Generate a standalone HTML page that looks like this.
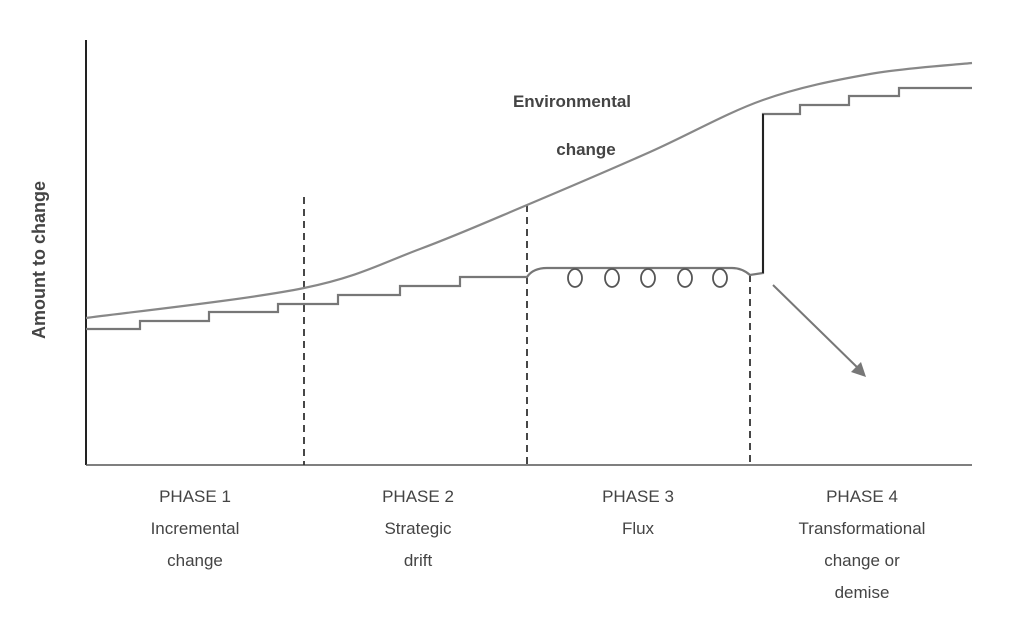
<!DOCTYPE html>
<html><head><meta charset="utf-8"><style>
html,body{margin:0;padding:0;background:#fff;}
svg{display:block;font-family:"Liberation Sans",sans-serif;}
</style></head><body>
<svg id="chart" width="1024" height="630" viewBox="0 0 1024 630">
<g id="marks"></g>
<text x="45" y="260" transform="rotate(-90 45 260)" text-anchor="middle" font-size="18" font-weight="bold" fill="#444">Amount to change</text>
<text x="572" y="107" text-anchor="middle" font-size="17" font-weight="bold" fill="#444">Environmental</text>
<text x="586" y="155" text-anchor="middle" font-size="17" font-weight="bold" fill="#444">change</text>
<g font-size="17" fill="#444" text-anchor="middle">
<text><tspan x="195" y="502">PHASE 1</tspan><tspan x="195" y="534">Incremental</tspan><tspan x="195" y="566">change</tspan></text>
<text><tspan x="418" y="502">PHASE 2</tspan><tspan x="418" y="534">Strategic</tspan><tspan x="418" y="566">drift</tspan></text>
<text><tspan x="638" y="502">PHASE 3</tspan><tspan x="638" y="534">Flux</tspan></text>
<text><tspan x="862" y="502">PHASE 4</tspan><tspan x="862" y="534">Transformational</tspan><tspan x="862" y="566">change or</tspan><tspan x="862" y="598">demise</tspan></text>
</g>
</svg>
<script>
// time (0..886) vs amount (0..425)
const envTimes=[0,218,334,441,564,677,784,886];
const envAmounts=[147,177,216,260,313,365,391,402];
const stepTimes1=[0,54,123,192,252,314,374,441];
const stepAmounts1=[136,144,153,161,170,179,188];
const fluxStart=441, fluxEnd=664, fluxAmount=197, dipAmount=190;
const loopTimes=[489,526,562,599,634];
const stepTimes2=[677,714,763,813,886];
const stepAmounts2=[351,360,369,377];
const phaseBoundaries=[218,441,664];
const boundaryTops=[268,260,190];

const X0=86,Y0=465;
const xs=t=>X0+t;
const ys=a=>Y0-a;
const NS="http://www.w3.org/2000/svg";
const g=document.getElementById('marks');
function mk(tag,attrs){const e=document.createElementNS(NS,tag);for(const k in attrs)e.setAttribute(k,attrs[k]);g.appendChild(e);return e;}

let ya=mk('line',{x1:X0,y1:40,x2:X0,y2:Y0,stroke:'#222','stroke-width':2});


let xa=mk('line',{x1:X0,y1:Y0,x2:972,y2:Y0,stroke:'#555','stroke-width':1.5});



phaseBoundaries.forEach((t,i)=>{
 const l=mk('line',{x1:xs(t),y1:ys(boundaryTops[i]),x2:xs(t),y2:Y0,stroke:'#333','stroke-width':1.8,'stroke-dasharray':'7 5'});
 
 
});

const pts=envTimes.map((t,i)=>[xs(t),ys(envAmounts[i])]);
let d='M'+pts[0][0]+','+pts[0][1];
for(let i=0;i<pts.length-1;i++){
 const p0=pts[Math.max(0,i-1)],p1=pts[i],p2=pts[i+1],p3=pts[Math.min(pts.length-1,i+2)];
 const c1=[p1[0]+(p2[0]-p0[0])/6,p1[1]+(p2[1]-p0[1])/6];
 const c2=[p2[0]-(p3[0]-p1[0])/6,p2[1]-(p3[1]-p1[1])/6];
 d+=` C${c1[0]},${c1[1]} ${c2[0]},${c2[1]} ${p2[0]},${p2[1]}`;
}
const env=mk('path',{d:d,fill:'none',stroke:'#888','stroke-width':2.2});



let s='M'+xs(stepTimes1[0])+','+ys(stepAmounts1[0]);
for(let i=0;i<stepAmounts1.length;i++){
 if(i>0)s+=' L'+xs(stepTimes1[i])+','+ys(stepAmounts1[i]);
 s+=' L'+xs(stepTimes1[i+1])+','+ys(stepAmounts1[i]);
}
s+=` Q${xs(fluxStart+6)},${ys(fluxAmount)} ${xs(fluxStart+20)},${ys(fluxAmount)}`;
s+=` L${xs(fluxEnd-18)},${ys(fluxAmount)} Q${xs(fluxEnd-8)},${ys(fluxAmount)} ${xs(fluxEnd)},${ys(dipAmount)}`;
s+=` L${xs(stepTimes2[0])},${ys(dipAmount+2)}`;
for(let i=0;i<stepAmounts2.length;i++){
 s+=' L'+xs(stepTimes2[i])+','+ys(stepAmounts2[i]);
 s+=' L'+xs(stepTimes2[i+1])+','+ys(stepAmounts2[i]);
}
const strat=mk('path',{d:s,fill:'none',stroke:'#777','stroke-width':2.2});


const vj=mk('line',{x1:xs(stepTimes2[0]),y1:ys(dipAmount+2),x2:xs(stepTimes2[0]),y2:ys(stepAmounts2[0]),stroke:'#222','stroke-width':2});



loopTimes.forEach((t,i)=>{
 const c=mk('ellipse',{cx:xs(t),cy:ys(fluxAmount)+10,rx:7,ry:9,fill:'none',stroke:'#555','stroke-width':1.8});
 
 
});

const ar=mk('line',{x1:773,y1:285,x2:862,y2:372,stroke:'#777','stroke-width':2});


const ah=mk('path',{d:'M866,377 L851,372 L861,362 Z',fill:'#777'});


</script>
</body></html>
